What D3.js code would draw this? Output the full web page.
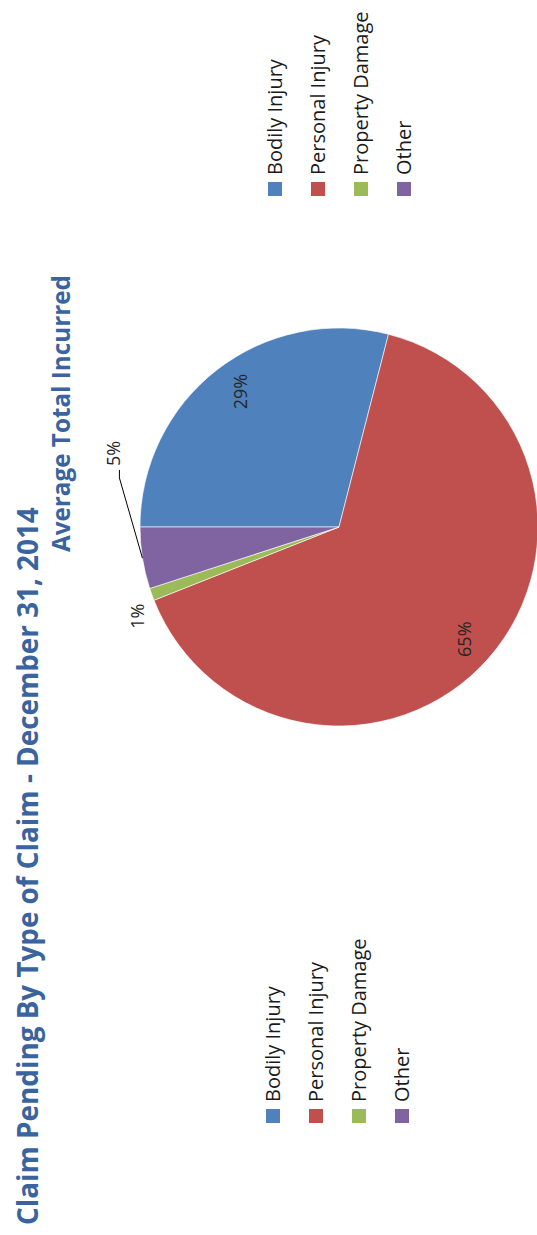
<!DOCTYPE html>
<html>
<head>
<meta charset="utf-8">
<script src="https://cdn.jsdelivr.net/npm/d3@7"></script>
<style>
  html, body { margin: 0; padding: 0; background: #ffffff; }
  svg { display: block; }
  text { font-family: "Open Sans", "Noto Sans", sans-serif; }
</style>
</head>
<body>
<svg id="chart" width="537" height="1235"></svg>
<script>
// Claim types and their share of average total incurred (percent)
const categories = ["Bodily Injury", "Personal Injury", "Property Damage", "Other"];
const shares = [29, 65, 1, 5];
const sliceColors = ["#4F81BD", "#C0504D", "#9BBB59", "#8064A2"];

const titleText = "Claim Pending By Type of Claim - December 31, 2014";
const subtitleText = "Average Total Incurred";

const W = 537, H = 1235;
const svg = d3.select("#chart");

// The page is laid out landscape (H wide, W tall) and turned a quarter turn
const page = svg.append("g")
  .attr("transform", `translate(0,${H}) rotate(-90)`);

const blue = "#3A64A0";

// Title and subtitle, fitted to a target width
function fitWidth(sel, target) {
  const w = sel.node().getComputedTextLength();
  const fs = parseFloat(sel.attr("font-size"));
  sel.attr("font-size", (fs * target / w).toFixed(2));
}

const title = page.append("text")
  .attr("x", 10).attr("y", 38)
  .attr("font-size", 26).attr("font-weight", 700)
  .attr("fill", blue)
  .text(titleText);
fitWidth(title, 718);

const subtitle = page.append("text")
  .attr("x", 683).attr("y", 70)
  .attr("font-size", 21).attr("font-weight", 700)
  .attr("fill", blue)
  .text(subtitleText);
fitWidth(subtitle, 277);

// Pie
const cx = 708, cy = 339, R = 199;
const pie = d3.pie().sort(null).value(d => d)(shares);
const arc = d3.arc().innerRadius(0).outerRadius(R);

const pieG = page.append("g").attr("transform", `translate(${cx},${cy})`);
pieG.selectAll("path.slice")
  .data(pie)
  .join("path")
  .attr("class", "slice")
  .attr("d", arc)
  .attr("fill", (d, i) => sliceColors[i])
  .attr("stroke", "#ffffff")
  .attr("stroke-width", 0.6);

// Label placement: inside labels sit on a ring, outside ones get a nudge
const labelPlacement = [
  { ring: 168, nudge: 1.5, outside: false },
  { ring: 168, nudge: 0.5, outside: false },
  { ring: 221, nudge: -4, outside: false },
  { ring: 225, nudge: 21.6, outside: true }
];

const rad = Math.PI / 180;
function polar(angle, r) {
  return [Math.sin(angle) * r, -Math.cos(angle) * r];
}

pie.forEach((d, i) => {
  const p = labelPlacement[i];
  const mid = (d.startAngle + d.endAngle) / 2;
  const label = d.data + "%";
  if (!p.outside) {
    const [x, y] = polar(mid + p.nudge * rad, p.ring);
    pieG.append("text")
      .attr("x", x).attr("y", y)
      .attr("text-anchor", "middle")
      .attr("dominant-baseline", "central")
      .attr("font-size", 18)
      .attr("fill", "#262626")
      .text(label);
  } else {
    const [x0, y0] = polar(mid, R);
    const [x1, y1] = polar(mid + p.nudge * rad, p.ring);
    pieG.append("path")
      .attr("d", `M${x0},${y0}L${x1},${y1}L${x1 + 8},${y1}`)
      .attr("fill", "none")
      .attr("stroke", "#000000")
      .attr("stroke-width", 1);
    pieG.append("text")
      .attr("x", x1 + 12).attr("y", y1 + 1)
      .attr("font-size", 18)
      .attr("fill", "#262626")
      .text(label);
  }
});

// Legends (one per panel)
function drawLegend(x, y0) {
  const g = page.append("g").attr("transform", `translate(${x},${y0})`);
  const step = 43;
  categories.forEach((c, i) => {
    g.append("rect")
      .attr("x", 0).attr("y", i * step - 7)
      .attr("width", 14).attr("height", 14)
      .attr("fill", sliceColors[i]);
    g.append("text")
      .attr("x", 21).attr("y", i * step + 7)
      .attr("font-size", 20)
      .attr("fill", "#1a1a1a")
      .text(c);
  });
}
drawLegend(112, 273);
drawLegend(1039, 275);
</script>
</body>
</html>
